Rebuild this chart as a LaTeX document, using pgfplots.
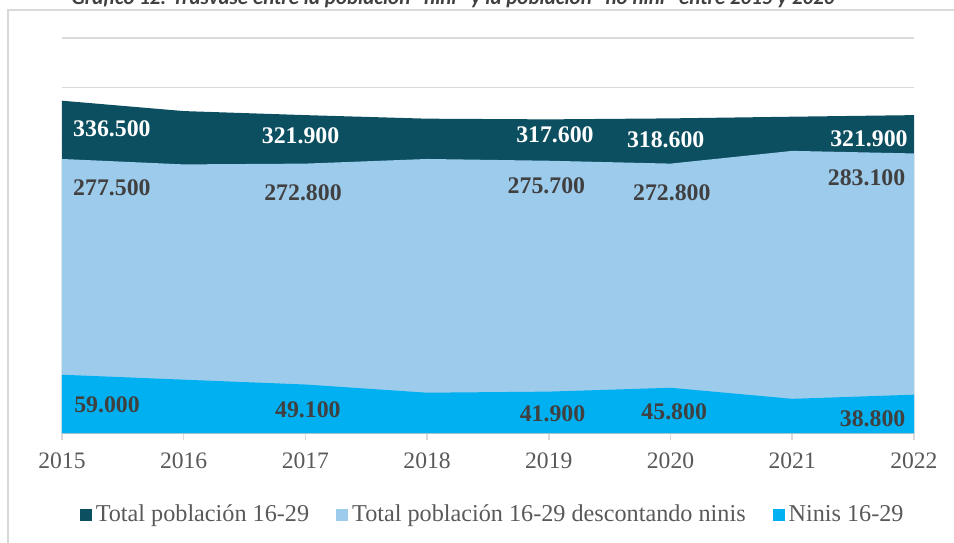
\documentclass[border=0pt]{standalone}
\usepackage{pgfplots}
\pgfplotsset{compat=1.18}
\usepackage{fontspec}
\setmainfont{Liberation Serif}
\newfontfamily\titlefont{Carlito}

\definecolor{cTotal}{HTML}{0B4F60}
\definecolor{cResto}{HTML}{9DCBEC}
\definecolor{cNinis}{HTML}{00B0F0}
\definecolor{cGrid}{HTML}{D9D9D9}
\definecolor{cTick}{HTML}{595959}
\definecolor{cLabel}{HTML}{404040}

\begin{document}
\begin{tikzpicture}
\useasboundingbox (0,0) rectangle (477pt,271pt);
\clip (0,0) rectangle (477pt,271pt);
% marco del grafico (recortado a la derecha y abajo)
\draw[cGrid, line width=0.75pt] (4pt,266pt) rectangle (500pt,-30pt);
% titulo cortado por arriba
\node[anchor=base east, inner sep=0pt, text=cLabel,
      font=\titlefont\bfseries\itshape\fontsize{10.5}{12}\selectfont]
  at (417.5pt,268.8pt) {Gráfico 12. Trasvase entre la población “nini” y la población “no nini” entre 2015 y 2020};

\begin{axis}[
    at={(31pt,54.5pt)}, anchor=south west,
    scale only axis, width=426pt, height=197.5pt,
    xmin=2015, xmax=2022, ymin=0, ymax=400000,
    scaled y ticks=false,
    axis x line*=bottom, axis y line*=left,
    y axis line style={draw=none},
    x axis line style={cGrid, line width=0.75pt},
    ytick={0,50000,...,400000}, yticklabels={}, ytick style={draw=none},
    ymajorgrids, grid style={cGrid, line width=0.75pt},
    xtick={2015,...,2022}, tick align=outside,
    xtick style={cGrid, line width=0.75pt}, major tick length=3.5pt,
    xticklabel style={font=\fontsize{11.8}{14}\selectfont, text=cTick, yshift=-3pt},
    /pgf/number format/1000 sep={},
    /pgf/number format/assume math mode=true,
    clip=false,
    legend columns=3,
    legend style={draw=none, fill=none, at={(0.5055,-0.2076)}, anchor=center,
        font=\fontsize{12.1}{14}\selectfont, text=cTick,
        nodes={inner xsep=1pt},
        /tikz/every even column/.append style={column sep=12.5pt}},
    legend image code/.code={\fill[#1] (0pt,-3pt) rectangle (6pt,3pt); \path (7pt,0pt);},
]

% Total poblacion 16-29
\addplot[fill=cTotal, draw=none] coordinates {
    (2015,336500) (2016,326000) (2017,321900) (2018,318300)
    (2019,317600) (2020,318600) (2021,320300) (2022,321900)
} \closedcycle;

% Total descontando ninis
\addplot[fill=cResto, draw=none] coordinates {
    (2015,277500) (2016,272000) (2017,272800) (2018,277500)
    (2019,275700) (2020,272800) (2021,285700) (2022,283100)
} \closedcycle;

% Ninis 16-29
\addplot[fill=cNinis, draw=none] coordinates {
    (2015,59000) (2016,54000) (2017,49100) (2018,40800)
    (2019,41900) (2020,45800) (2021,34600) (2022,38800)
} \closedcycle;

\legend{Total población 16-29, Total población 16-29 descontando ninis, Ninis 16-29}

% etiquetas de datos
\begin{scope}[every node/.style={font=\bfseries\fontsize{11.9}{14}\selectfont}]
\node[text=white] at (axis cs:2015.41,308600) {336.500};
\node[text=white] at (axis cs:2016.96,301100) {321.900};
\node[text=white] at (axis cs:2019.05,301800) {317.600};
\node[text=white] at (axis cs:2019.96,297400) {318.600};
\node[text=white] at (axis cs:2021.63,298400) {321.900};

\node[text=cLabel] at (axis cs:2015.41,248800) {277.500};
\node[text=cLabel] at (axis cs:2016.98,243700) {272.800};
\node[text=cLabel] at (axis cs:2018.98,250400) {275.700};
\node[text=cLabel] at (axis cs:2020.01,243700) {272.800};
\node[text=cLabel] at (axis cs:2021.61,258900) {283.100};

\node[text=cLabel] at (axis cs:2015.37,28400) {59.000};
\node[text=cLabel] at (axis cs:2017.02,23300) {49.100};
\node[text=cLabel] at (axis cs:2019.03,19200) {41.900};
\node[text=cLabel] at (axis cs:2020.03,21600) {45.800};
\node[text=cLabel] at (axis cs:2021.66,14900) {38.800};
\end{scope}

\end{axis}
\end{tikzpicture}
\end{document}
